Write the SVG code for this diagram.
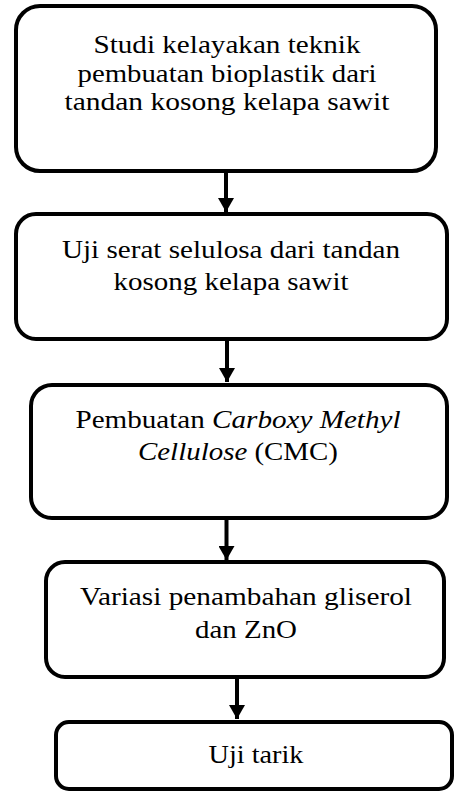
<svg xmlns="http://www.w3.org/2000/svg" width="454" height="791" viewBox="0 0 454 791">
<style>
.box{fill:#fff;stroke:#000;stroke-width:4}
.lbl{font-family:"Liberation Serif","Times New Roman",serif;font-size:25px;fill:#000;text-anchor:middle}
.it{font-style:italic}
.conn{stroke:#000;stroke-width:4;fill:none}
</style>
<defs>
<marker id="ah" markerUnits="userSpaceOnUse" markerWidth="16" markerHeight="16" refX="14" refY="8" orient="auto" viewBox="0 0 16 16">
<path d="M0,0 L14,8 L0,16 z" fill="#000"/>
</marker>
</defs>
<rect width="454" height="791" fill="#fff"/>
<g id="connectors">
<line class="conn" x1="226" y1="171" x2="226" y2="212" marker-end="url(#ah)"/>
<line class="conn" x1="227" y1="339" x2="227" y2="382" marker-end="url(#ah)"/>
<line class="conn" x1="226.5" y1="518" x2="226.5" y2="560" marker-end="url(#ah)"/>
<line class="conn" x1="237" y1="677" x2="237" y2="719" marker-end="url(#ah)"/>
</g>
<g id="node1">
<rect class="box" x="16" y="6" width="420" height="165" rx="24" ry="24"/>
<text class="lbl" x="227" y="53" textLength="267" lengthAdjust="spacingAndGlyphs">Studi kelayakan teknik</text>
<text class="lbl" x="227" y="82" textLength="299" lengthAdjust="spacingAndGlyphs">pembuatan bioplastik dari</text>
<text class="lbl" x="227" y="110" textLength="325" lengthAdjust="spacingAndGlyphs">tandan kosong kelapa sawit</text>
</g>
<g id="node2">
<rect class="box" x="16" y="214" width="431" height="125" rx="20" ry="20"/>
<text class="lbl" x="231" y="258" textLength="338" lengthAdjust="spacingAndGlyphs">Uji serat selulosa dari tandan</text>
<text class="lbl" x="231" y="290" textLength="235" lengthAdjust="spacingAndGlyphs">kosong kelapa sawit</text>
</g>
<g id="node3">
<rect class="box" x="31" y="385" width="416" height="133" rx="21" ry="21"/>
<text class="lbl" x="238" y="428" textLength="325" lengthAdjust="spacingAndGlyphs">Pembuatan <tspan class="it">Carboxy Methyl</tspan></text>
<text class="lbl" x="238" y="460" textLength="200" lengthAdjust="spacingAndGlyphs"><tspan class="it">Cellulose</tspan> (CMC)</text>
</g>
<g id="node4">
<rect class="box" x="46" y="562" width="398" height="115" rx="19" ry="19"/>
<text class="lbl" x="246" y="605" textLength="332" lengthAdjust="spacingAndGlyphs">Variasi penambahan gliserol</text>
<text class="lbl" x="246" y="638" textLength="102" lengthAdjust="spacingAndGlyphs">dan ZnO</text>
</g>
<g id="node5">
<rect class="box" x="56" y="722" width="396" height="67" rx="13" ry="13"/>
<text class="lbl" x="256" y="763" textLength="95" lengthAdjust="spacingAndGlyphs">Uji tarik</text>
</g>
</svg>
